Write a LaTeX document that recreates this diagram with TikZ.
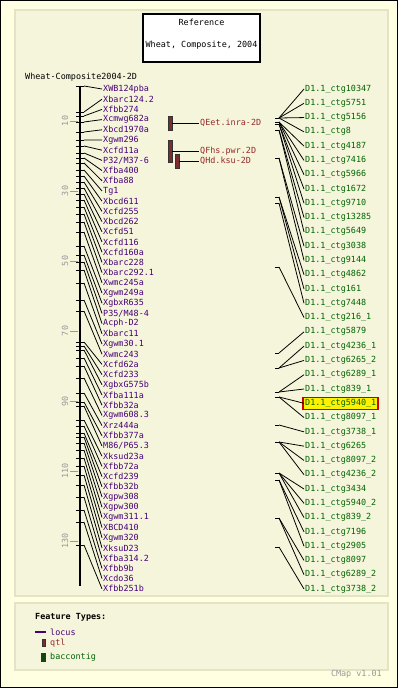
\documentclass[tikz,border=0pt]{standalone}
\usepackage{fontspec}
\setmonofont{DejaVu Sans Mono}
\usetikzlibrary{positioning}
\definecolor{pagebg}{RGB}{255,255,226}
\definecolor{panelbg}{RGB}{245,245,220}
\definecolor{panelline}{RGB}{228,228,196}
\definecolor{locuscol}{RGB}{70,0,120}
\definecolor{qtlcol}{RGB}{150,40,40}
\definecolor{qtlfill}{RGB}{125,45,45}
\definecolor{ctgcol}{RGB}{0,100,0}
\definecolor{ctgfill}{RGB}{20,70,20}
\tikzset{
	maptext/.style={font=\ttfamily\fontsize{4.8}{5.5}\selectfont, inner sep=0.5pt},
	locuslabel/.style={maptext, text=locuscol, anchor=west},
	ctglabel/.style={maptext, text=ctgcol, anchor=west},
	qtllabel/.style={maptext, text=qtlcol, anchor=west},
	scalelabel/.style={maptext, text=black!40, rotate=90},
	qtlbar/.style={draw=black!80, fill=qtlfill, line width=0.3pt, inner sep=0pt, minimum width=0.08cm},
	ctgbar/.style={draw=black!80, fill=ctgfill, line width=0.3pt, inner sep=0pt, minimum width=0.07cm, minimum height=0.16cm},
	link/.style={line width=0.45pt},
	tick/.style={line width=0.55pt},
	panel/.style={fill=panelbg, draw=panelline, line width=0.6pt},
}
\begin{document}
\begin{tikzpicture}[x=0.02cm,y=-0.02cm]
	\useasboundingbox (0,0) rectangle (398,688);
	\fill[pagebg] (0,0) rectangle (398,688);
	\draw[line width=0.9pt] (0.5,0.5) rectangle (397.5,687.5);
	\draw[panel] (15,10) rectangle (388,596);
	\draw[panel] (15,603) rectangle (388,670);
	% title box
	\node[draw, fill=white, line width=0.6pt, minimum width=2.34cm, minimum height=0.96cm] (titlebox) at (201.5,38) {};
	\node[maptext] (reftitle) at (201.5,22) {Reference};
	\node[maptext] (settitle) at (201.5,45) {Wheat, Composite, 2004};
	\node[maptext, anchor=west] (maptitle) at (24,77) {Wheat-Composite2004-2D};
	% chromosome axis
	\coordinate (axtop) at (80,86);
	\coordinate (axbottom) at (80,586);
	\draw[line width=1.7pt] (axtop) -- (axbottom);
	\draw[tick] (76,86) -- (84,86);
	\foreach \cm in {10,30,...,130}
	{
		\draw[black!40, line width=0.5pt] (70,{86+3.5*\cm}) -- (78,{86+3.5*\cm});
		\node[scalelabel] (s\cm) at (65,{86+3.5*\cm}) {\cm};
	}
	% loci
	\foreach \name/\tk [count=\i] in {XWB124pba/86, Xbarc124.2/112, Xfbb274/116, Xcmwg682a/122, Xbcd1970a/132,
		Xgwm296/140, Xcfd11a/146, {P32/M37-6}/153, Xfba400/158, Xfba88/163, Tg1/170, Xbcd611/176,
		Xcfd255/182, Xbcd262/188, Xcfd51/194, Xcfd116/200, Xcfd160a/207, Xbarc228/214, Xbarc292.1/222,
		Xwmc245a/232, Xgwm249a/246, XgbxR635/255, {P35/M48-4}/262, Acph-D2/270, Xbarc11/283,
		Xgwm30.1/300, Xwmc243/311, Xcfd62a/342, Xcfd233/346, XgbxG575b/350, Xfba111a/358,
		Xfbb32a/366, Xgwm608.3/378, Xrz444a/393, Xfbb377a/402, {M86/P65.3}/406, Xksud23a/420,
		Xfbb72a/426, Xcfd239/433, Xfbb32b/437, Xgpw308/443, Xgpw300/450, Xgwm311.1/458,
		XBCD410/466, Xgwm320/475, XksuD23/485, Xfba314.2/497, Xfbb9b/510, Xcdo36/522, Xfbb251b/545}
	{
		\draw[tick] (76,\tk) -- (84,\tk) coordinate (t\i);
		\node[locuslabel] (l\i) at (102,{89+(\i-1)*10.2}) {\name};
		\draw[link] (t\i) -- (l\i.west);
	}
	% qtl
	\node[qtlbar, minimum height=0.28cm] (q1bar) at (170,123) {};
	\node[qtlbar, minimum height=0.44cm] (q2bar) at (170,151) {};
	\node[qtlbar, minimum height=0.28cm] (q3bar) at (177,161) {};
	\node[qtllabel] (q1) at (199,123) {QEet.inra-2D};
	\node[qtllabel] (q2) at (199,151) {QFhs.pwr.2D};
	\node[qtllabel] (q3) at (199,161) {QHd.ksu-2D};
	\draw[link] (q1bar.east) -- (q1.west);
	\draw[link] (q2bar.east) -- (q2.west);
	\draw[link] (q3bar.east) -- (q3.west);
	% bac contigs
	\filldraw[fill=yellow, draw=red!80!black, line width=0.6pt] (303,397.5) rectangle (378,409.5);
	\foreach \ctg/\cy [count=\j] in {10347/118, 5751/118, 5156/118, 8/118, 4187/122, 7416/122, 5966/122,
		1672/124, 9710/124, 13285/130, 5649/130, 3038/158, 9144/158, 4862/197, 161/197, 7448/203,
		216\_1/267, 5879/353, 4236\_1/368, 6265\_2/368, 6289\_1/392, 839\_1/392, 5940\_1/397,
		8097\_1/397, 3738\_1/425, 6265/442, 8097\_2/442, 4236\_2/442, 3434/473, 5940\_2/473,
		839\_2/473, 7196/480, 2905/480, 8097/518, 6289\_2/518, 3738\_2/547}
	{
		\draw[tick] (275,\cy) -- (279,\cy) coordinate (c\j);
		\node[ctglabel] (d\j) at (304,{89+(\j-1)*14.286}) {D1.1\_ctg\ctg};
		\draw[link] (c\j) -- (d\j.west);
	}
	% legend
	\node[maptext, font=\ttfamily\bfseries\fontsize{4.8}{5.5}\selectfont, anchor=west] (legendtitle) at (34,617) {Feature Types:};
	\node[locuslabel] (legendlocus) at (49,632) {locus};
	\draw[locuscol, line width=0.6pt] (35,632) -- (46,632);
	\node[qtlbar, minimum height=0.15cm, minimum width=0.06cm] (legendqtlbar) at (43.5,643) {};
	\node[qtllabel] (legendqtl) at (49,643) {qtl};
	\node[ctgbar] (legendctgbar) at (43.5,657) {};
	\node[ctglabel] (legendctg) at (49,657) {baccontig};
	\node[maptext, text=black!40, anchor=east] (version) at (383,674) {CMap v1.01};
\end{tikzpicture}
\end{document}
